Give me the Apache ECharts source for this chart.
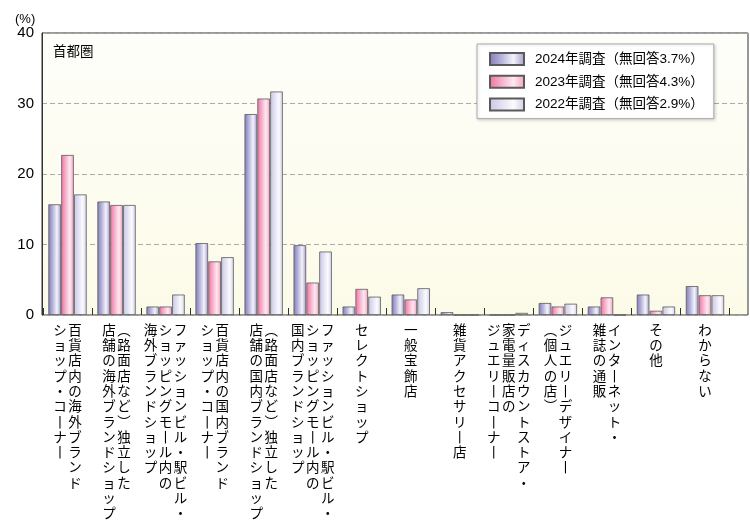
<!DOCTYPE html>
<html><head><meta charset="utf-8">
<script src="https://cdn.jsdelivr.net/npm/echarts@6/dist/echarts.min.js"></script>
<style>html,body{margin:0;padding:0;background:#fff}#c{width:750px;height:522px}</style>
</head><body><div id="c"></div>
<script>
// Category labels: '\n' separates vertical columns (first line = rightmost column)
const categories = [
  '百貨店内の海外ブランド\nショップ・コーナー',
  '（路面店など）独立した\n店舗の海外ブランドショップ',
  'ファッションビル・駅ビル・\nショッピングモール内の\n海外ブランドショップ',
  '百貨店内の国内ブランド\nショップ・コーナー',
  '（路面店など）独立した\n店舗の国内ブランドショップ',
  'ファッションビル・駅ビル・\nショッピングモール内の\n国内ブランドショップ',
  'セレクトショップ',
  '一般宝飾店',
  '雑貨アクセサリー店',
  'ディスカウントストア・\n家電量販店の\nジュエリーコーナー',
  'ジュエリーデザイナー\n（個人の店）',
  'インターネット・\n雑誌の通販',
  'その他',
  'わからない'
];
const seriesNames = ['2024年調査（無回答3.7%）', '2023年調査（無回答4.3%）', '2022年調査（無回答2.9%）'];
const values2024 = [15.7, 16.1, 1.2, 10.2, 28.5, 9.9, 1.2, 2.9, 0.4, 0, 1.7, 1.2, 2.9, 4.1];
const values2023 = [22.7, 15.6, 1.2, 7.6, 30.7, 4.6, 3.7, 2.2, 0, 0, 1.2, 2.5, 0.6, 2.8];
const values2022 = [17.1, 15.6, 2.9, 8.2, 31.7, 9.0, 2.6, 3.8, 0, 0.3, 1.6, 0, 1.2, 2.8];
const yTicks = [0, 10, 20, 30, 40];
const unitLabel = '(%)';
const regionLabel = '首都圏';

const vmap = {'ー': '丨', '（': '︵', '）': '︶', '(': '︵', ')': '︶'};
function vert(label) {
  const cols = label.split('\n').map(s => Array.from(s).map(ch => vmap[ch] || ch));
  const n = Math.max(...cols.map(c => c.length));
  const order = cols.slice().reverse();
  const lines = [];
  for (let i = 0; i < n; i++) {
    lines.push(order.map(c => '{c|' + (c[i] || '\u3000') + '}').join(''));
  }
  return lines.join('\n');
}
function grad(c0, c1, c2, c3) {
  return new echarts.graphic.LinearGradient(0, 0, 1, 0, [
    {offset: 0, color: c0}, {offset: 0.35, color: c1}, {offset: 0.68, color: c2}, {offset: 1, color: c3}
  ]);
}
const fills = [
  grad('#817cbb', '#b7b4db', '#f4f3fa', '#9f9bce'),
  grad('#ee72a2', '#f6b0cb', '#fde9f1', '#f3a0c0'),
  grad('#c9c7e5', '#e2e1f2', '#fbfbfe', '#d0cee9')
];
const seriesData = [values2024, values2023, values2022];

const chart = echarts.init(document.getElementById('c'), null, {renderer: 'canvas'});
const jp = "'Noto Sans CJK JP', sans-serif";
const num = "'Liberation Sans', 'Noto Sans CJK JP', sans-serif";
chart.setOption({
  animation: false,
  backgroundColor: '#fff',
  grid: [
    {left: 42, right: 2, top: 33, bottom: 207, show: true, borderColor: '#333', borderWidth: 1,
      backgroundColor: new echarts.graphic.LinearGradient(0, 0, 0, 1, [{offset: 0, color: '#fefefa'}, {offset: 1, color: '#fcfbe8'}])},
    {left: 43, right: 20.5, top: 33, bottom: 207}
  ],
  xAxis: [
    {gridIndex: 0, type: 'value', show: false, min: 0, max: 1},
    {gridIndex: 1, type: 'category', data: categories, boundaryGap: true,
      axisLine: {show: false},
      axisTick: {show: true, inside: true, length: 7, interval: 0, lineStyle: {color: '#333'}},
      axisLabel: {interval: 0, margin: 7, color: '#000', formatter: v => vert(v),
        rich: {c: {width: 15, align: 'center', fontSize: 13.5, lineHeight: 15.3, fontFamily: jp, color: '#000'}}}
    }
  ],
  yAxis: [
    {gridIndex: 0, type: 'value', min: yTicks[0], max: yTicks[yTicks.length - 1], interval: 10,
      axisLine: {show: true, lineStyle: {color: '#333'}}, axisTick: {show: false},
      axisLabel: {fontSize: 15, color: '#000', fontFamily: num, margin: 8},
      splitLine: {show: true, lineStyle: {color: '#aaa', type: [5, 3], width: 1}}},
    {gridIndex: 1, type: 'value', min: yTicks[0], max: yTicks[yTicks.length - 1], show: false, splitLine: {show: false}}
  ],
  legend: {
    data: seriesNames, orient: 'vertical', left: 477, top: 44,
    padding: [8, 10, 7, 12], itemGap: 8.8, itemWidth: 34, itemHeight: 12,
    backgroundColor: '#fff', borderColor: '#aaa', borderWidth: 1,
    shadowColor: 'rgba(0,0,0,0.15)', shadowBlur: 3, shadowOffsetX: 1, shadowOffsetY: 1,
    icon: 'rect',
    textStyle: {fontSize: 13.5, lineHeight: 14, color: '#000', fontFamily: num, padding: [0, 0, 0, 6]}
  },
  graphic: [
    {type: 'text', left: 15, top: 13, style: {text: unitLabel, fontSize: 13, fill: '#000', fontFamily: num}},
    {type: 'text', left: 53, top: 44, style: {text: regionLabel, fontSize: 13.5, fill: '#000', fontFamily: jp}}
  ],
  series: seriesData.map((d, i) => ({
    name: seriesNames[i], type: 'bar', xAxisIndex: 1, yAxisIndex: 1, data: d,
    barWidth: 12.6, barGap: '2%',
    itemStyle: {color: fills[i], borderColor: '#5a5a5a', borderWidth: 0.8}
  }))
});
</script></body></html>
